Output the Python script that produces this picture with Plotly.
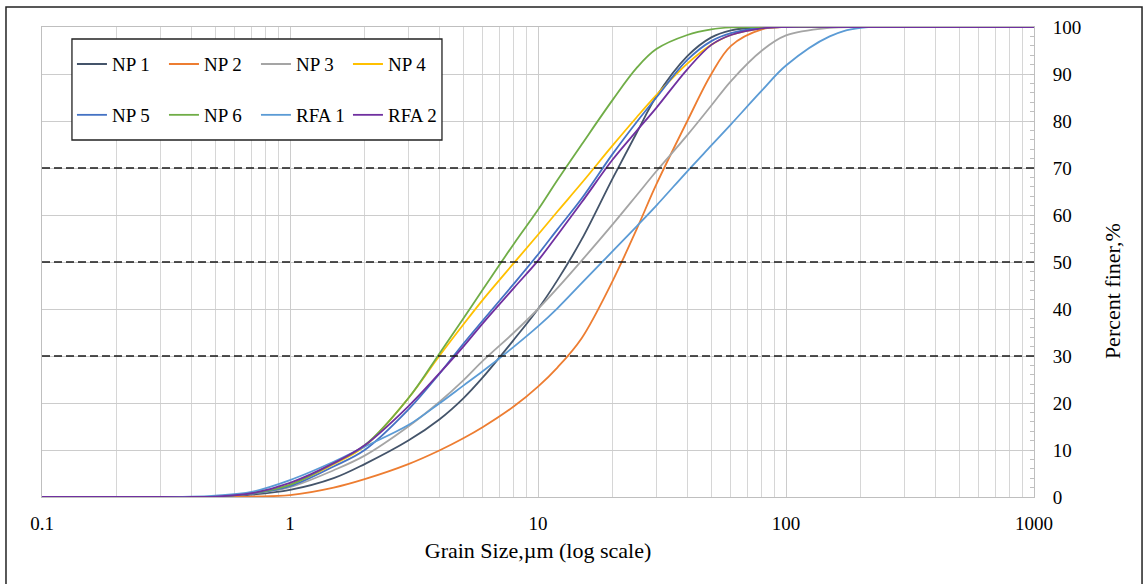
import plotly.graph_objects as go

# Grain sizes (µm) at which the curves were read
sizes = [0.1, 0.3, 0.4, 0.5, 0.7, 1, 1.5, 2, 3, 4, 5, 6, 8, 10, 12, 15, 20, 25, 30, 40, 50, 60, 80, 100, 150, 200, 1000]

np1  = [0, 0, 0, 0.1, 0.5, 1.5, 4.0, 7.0, 12.0, 16.5, 21.0, 25.5, 33.5, 40.0, 46.2, 54.8, 67.8, 77.5, 85.2, 93.8, 97.8, 99.3, 100, 100, 100, 100, 100]
np2  = [0, 0, 0, 0.0, 0.1, 0.4, 2.0, 3.8, 7.0, 9.9, 12.5, 14.9, 19.3, 23.5, 27.6, 33.8, 46.0, 57.0, 66.5, 80.0, 90.0, 96.0, 99.5, 100, 100, 100, 100]
np3  = [0, 0, 0, 0.1, 0.7, 2.1, 5.7, 8.8, 15.0, 20.2, 24.8, 29.0, 35.0, 40.0, 44.5, 50.3, 58.0, 64.2, 69.3, 77.0, 83.3, 88.5, 95.0, 98.2, 99.8, 100, 100]
np4  = [0, 0, 0, 0.1, 0.8, 2.6, 7.0, 10.8, 21.0, 30.0, 36.7, 42.0, 49.8, 55.8, 60.8, 66.8, 74.8, 80.8, 85.5, 92.2, 96.2, 98.3, 99.7, 100, 100, 100, 100]
np5  = [0, 0, 0, 0.1, 0.7, 2.3, 6.5, 10.0, 18.6, 26.2, 32.6, 37.6, 45.4, 51.6, 57.0, 63.5, 73.0, 79.8, 85.0, 93.0, 97.0, 98.7, 99.8, 100, 100, 100, 100]
np6  = [0, 0, 0, 0.1, 0.8, 2.6, 7.2, 11.0, 21.0, 30.5, 38.0, 44.2, 53.9, 61.1, 67.5, 75.0, 84.5, 91.3, 95.3, 98.3, 99.5, 99.9, 100, 100, 100, 100, 100]
rfa1 = [0, 0, 0.05, 0.3, 1.1, 3.6, 7.5, 10.7, 15.3, 19.9, 23.7, 26.8, 32.0, 36.3, 40.2, 45.5, 52.3, 57.6, 62.0, 69.3, 74.8, 79.3, 86.5, 91.8, 98.0, 99.8, 100]
rfa2 = [0, 0, 0, 0.1, 0.8, 3.0, 7.2, 11.0, 19.3, 26.3, 32.0, 37.0, 44.5, 50.3, 55.8, 62.7, 71.8, 77.9, 82.8, 91.0, 96.2, 98.3, 99.7, 100, 100, 100, 100]

series_names = ["NP 1", "NP 2", "NP 3", "NP 4", "NP 5", "NP 6", "RFA 1", "RFA 2"]
series_vals = [np1, np2, np3, np4, np5, np6, rfa1, rfa2]
colors = ["#44546A", "#ED7D31", "#A5A5A5", "#FFC000", "#4472C4", "#70AD47", "#5B9BD5", "#7030A0"]

ref_levels = [30, 50, 70]
x_tickvals = [0.1, 1, 10, 100, 1000]
x_ticktext = ["0.1", "1", "10", "100", "1000"]

FONT = "Liberation Serif"

fig = go.Figure()
for i, (name, vals, col) in enumerate(zip(series_names, series_vals, colors)):
    fig.add_trace(go.Scatter(
        x=sizes, y=vals, name=name, mode="lines",
        line=dict(color=col, width=1.8, shape="spline", smoothing=1.0),
        legend="legend" if i < 4 else "legend2",
    ))

# dashed reference lines
for lv in ref_levels:
    fig.add_shape(type="line", xref="paper", yref="y", x0=0, x1=1.004, y0=lv, y1=lv,
                  line=dict(color="#1a1a1a", width=1.6, dash="8px,4px"), layer="above")

# legend frame
fig.add_shape(type="rect", xref="paper", yref="paper",
              x0=0.0302, x1=0.4032, y0=0.7596, y1=0.9745,
              line=dict(color="#222222", width=1.3), fillcolor="white", layer="above")

# outer chart border
fig.add_shape(type="rect", xref="paper", yref="paper",
              x0=-0.0363, x1=1.1089, y0=-0.19, y1=1.0426,
              line=dict(color="#222222", width=1.5), fillcolor="rgba(0,0,0,0)", layer="above")

# y-axis title (placed as in the reference, slightly below the plot centre)
fig.add_annotation(text="Percent finer,%", xref="paper", yref="paper",
                   x=1.0786, y=0.438, xanchor="center", yanchor="middle",
                   textangle=-90, showarrow=False,
                   font=dict(family=FONT, size=22, color="black"))

leg_common = dict(orientation="h", xanchor="left", yanchor="middle",
                  bgcolor="rgba(0,0,0,0)", borderwidth=0,
                  font=dict(family=FONT, size=19, color="black"),
                  entrywidth=47, entrywidthmode="pixels", itemwidth=30,
                  tracegroupgap=0)

fig.update_layout(
    width=1144, height=584,
    margin=dict(l=42, r=110, t=27, b=87),
    paper_bgcolor="white", plot_bgcolor="white",
    font=dict(family=FONT, size=19, color="black"),
    legend=dict(x=0.0302, y=0.921, **leg_common),
    legend2=dict(x=0.0302, y=0.8128, **leg_common),
    xaxis=dict(
        type="log", range=[-1, 3],
        tickvals=x_tickvals, ticktext=x_ticktext,
        showgrid=True, gridcolor="#cccccc", gridwidth=1,
        minor=dict(dtick="D1", showgrid=True, gridcolor="#d6d6d6", gridwidth=1, ticks=""),
        showline=True, linecolor="#bfbfbf", linewidth=1, mirror=True,
        ticks="", ticklabelstandoff=9,
        tickfont=dict(family=FONT, size=19, color="black"),
        title=dict(text="Grain Size,µm (log scale)", standoff=9,
                   font=dict(family=FONT, size=22, color="black")),
        zeroline=False,
    ),
    yaxis=dict(
        side="right", range=[0, 100], dtick=10,
        showgrid=True, gridcolor="#cccccc", gridwidth=1,
        ticks="inside", ticklen=4, tickcolor="#bfbfbf",
        minor=dict(dtick=2, ticks="inside", ticklen=4, tickcolor="#bfbfbf", showgrid=False),
        showline=True, linecolor="#bfbfbf", linewidth=1, mirror=True,
        ticklabelstandoff=14,
        tickfont=dict(family=FONT, size=19, color="black"),
        zeroline=False,
    ),
)

fig.write_html("out.html")
